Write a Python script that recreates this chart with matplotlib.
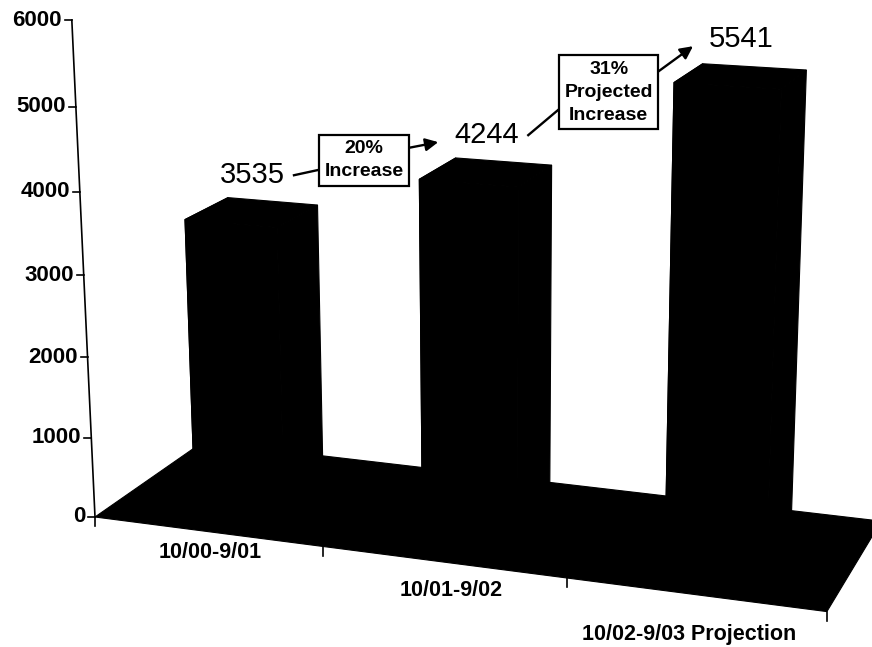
import numpy as np
import matplotlib
matplotlib.use("Agg")
import matplotlib.pyplot as plt
from matplotlib.patches import Polygon

periods = ['10/00-9/01', '10/01-9/02', '10/02-9/03 Projection']
counts = [3535, 4244, 5541]
increase_notes = ['20%\nIncrease', '31%\nProjected\nIncrease']
value_ticks = [0, 1000, 2000, 3000, 4000, 5000, 6000]

plt.rcParams['font.family'] = ['Liberation Sans', 'DejaVu Sans']

W, H = 872, 647

# perspective camera, fitted by eye to the scan: vanishing points (px) of the
# category, value and depth directions + where the front-left floor corner lands
vp_cat = np.array([-7000.0, -400.0, 1.0])
vp_val = np.array([500.0, 9200.0, 1.0])
vp_dep = np.array([1452.0, -427.0, 1.0])
corner = np.array([95.0, 517.0, 1.0])
P = np.column_stack([-0.03117 * vp_cat, -0.009023 * vp_val,
                     0.08647 * vp_dep, corner])


def proj(x, v, z):
    # x in category units, v in counts, z in floor depth units
    h = P @ np.array([x, v / 1000.0, z, 1.0])
    return h[0] / h[2], h[1] / h[2]


def face(ax, pts, **kw):
    ax.add_patch(Polygon([proj(*p) for p in pts], closed=True, **kw))


fig = plt.figure(figsize=(W / 100, H / 100), dpi=100)
ax = fig.add_axes([0, 0, 1, 1])
ax.set_xlim(0, W)
ax.set_ylim(H, 0)
ax.axis('off')

n = len(counts)
solid = dict(fc='black', ec='black', lw=0.8)

# floor
face(ax, [(0, 0, 0), (n, 0, 0), (n, 0, 1), (0, 0, 1)], **solid)

# columns
bar_w = 0.4
z0, z1 = 0.5 - bar_w / 2, 0.5 + bar_w / 2
for i, c in enumerate(counts):
    x0, x1 = i + 0.5 - bar_w / 2, i + 0.5 + bar_w / 2
    face(ax, [(x0, 0, z0), (x1, 0, z0), (x1, c, z0), (x0, c, z0)], **solid)
    face(ax, [(x0, 0, z0), (x0, 0, z1), (x0, c, z1), (x0, c, z0)], **solid)
    face(ax, [(x1, 0, z0), (x1, 0, z1), (x1, c, z1), (x1, c, z0)], **solid)
    face(ax, [(x0, c, z0), (x1, c, z0), (x1, c, z1), (x0, c, z1)], **solid)

# value axis
u0, v0 = proj(0, value_ticks[0], 0)
u1, v1 = proj(0, value_ticks[-1], 0)
ax.plot([u0, u1], [v0, v1], color='black', lw=1.2)
for t in value_ticks:
    u, v = proj(0, t, 0)
    ax.plot([u - 7, u], [v, v], color='black', lw=1.2)
    ax.text(u - 10, v, str(t), ha='right', va='center',
            fontsize=16, fontweight='bold')

# category ticks + labels (Excel drops them along a steeper line)
for k in range(n + 1):
    u, v = proj(k, 0, 0)
    ax.plot([u, u], [v, v + 9], color='black', lw=1.2)
label_shift = [(3, 21), (8, 29), (-5, 40)]
for i, name in enumerate(periods):
    u, v = proj(i + 0.5, 0, 0)
    dx, dy = label_shift[i]
    ax.text(u + dx, v + dy, name, ha='center', va='center',
            fontsize=15.5, fontweight='bold')

# value labels above each column
label_xy = []
for i, c in enumerate(counts):
    u, v = proj(i + 0.5, c, 0.5)
    label_xy.append((u, v - 37))
    ax.text(u, v - 37, str(c), ha='center', va='center', fontsize=21)

# growth boxes between consecutive labels
box_half = [(46, 28), (46, 40)]
for k, note in enumerate(increase_notes):
    (ua, va), (ub, vb) = label_xy[k], label_xy[k + 1]
    bx, by = (ua + ub) / 2 - 5, (va + vb) / 2 + 5
    hw, hh = box_half[k]
    ax.plot([ua + 42, bx - hw], [va, by + hh * 0.35], color='black', lw=1.7)
    ax.annotate('', xy=(ub - 48, vb + 7), xytext=(bx + hw, by - hh * 0.45),
                arrowprops=dict(arrowstyle='-|>', color='black', lw=1.7,
                                mutation_scale=19, shrinkA=0, shrinkB=0))
    ax.text(bx, by, note, ha='center', va='center', multialignment='center',
            fontsize=14, fontweight='bold', linespacing=1.45, zorder=5,
            bbox=dict(boxstyle='square,pad=0.28', fc='white', ec='black', lw=1.6))

fig.savefig('out.png', dpi=100)
